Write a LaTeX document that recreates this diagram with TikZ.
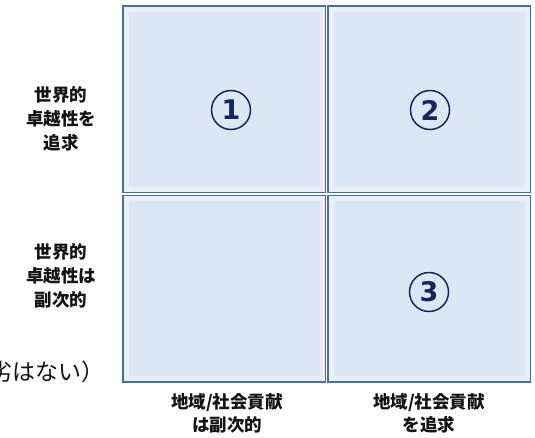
\documentclass[tikz,border=0pt]{standalone}
\usepackage{fontspec}
\newfontfamily\jp{Noto Sans CJK JP}
\newfontfamily\numfont{DejaVu Sans}
\definecolor{cellfill}{HTML}{DCE7F5}
\definecolor{cellrim}{HTML}{E8EFF8}
\definecolor{cellline}{HTML}{4A6F9C}
\definecolor{gapfill}{HTML}{D8E4F2}
\definecolor{navy}{HTML}{17265A}
\definecolor{ink}{HTML}{141414}
\tikzset{
  cell/.style={rectangle, draw=cellline, fill=cellfill, line width=1.3pt,
    minimum width=202.5pt, minimum height=186.5pt, inner sep=0pt},
  rim/.style={draw=cellrim, line width=5pt},
  numc/.style={circle, draw=navy, line width=1.5pt, minimum size=39pt,
    inner sep=0pt, text=navy, font=\numfont\bfseries\fontsize{27}{27}\selectfont},
  rowlab/.style={align=center, text=ink, inner sep=0pt,
    font=\jp\bfseries\fontsize{17.5}{24}\selectfont},
  collab/.style={align=center, text=ink, inner sep=0pt,
    font=\jp\bfseries\fontsize{17.5}{23}\selectfont},
  note/.style={anchor=east, text=ink, inner sep=0pt,
    font=\jp\fontsize{23}{23}\selectfont}
}
\begin{document}
\begin{tikzpicture}[x=1pt,y=-1pt]
\useasboundingbox (0,0) rectangle (535,437);
\clip (0,0) rectangle (535,437);
\fill[white] (0,0) rectangle (535,437);
% cells
\node[cell] (c11) at (224.25,99.25) {};
\node[cell] (c12) at (429.25,99.25) {};
\node[cell] (c21) at (224.25,288.75) {};
\node[cell] (c22) at (429.25,288.75) {};
\foreach \c in {c11,c12,c21,c22}{
  \draw[rim] ([shift={(4,4)}]\c.north west) rectangle ([shift={(-4,-4)}]\c.south east);
}
% circled numbers
\node[numc] (n1) at (231,110) {1};
\node[numc] (n2) at (430,110) {2};
\node[numc] (n3) at (429,292) {3};
% row labels
\node[rowlab] (r1) at (61,119) {世界的\\卓越性を\\追求};
\node[rowlab] (r2) at (61,276) {世界的\\卓越性は\\副次的};
% column labels
\node[collab] (k1) at (227,413) {地域/社会貢献\\は副次的};
\node[collab] (k2) at (429,413) {地域/社会貢献\\を追求};
% partial note (cut at the left edge as in the reference)
\node[note] (nt) at (105,372) {（優劣はない）};
\end{tikzpicture}
\end{document}
